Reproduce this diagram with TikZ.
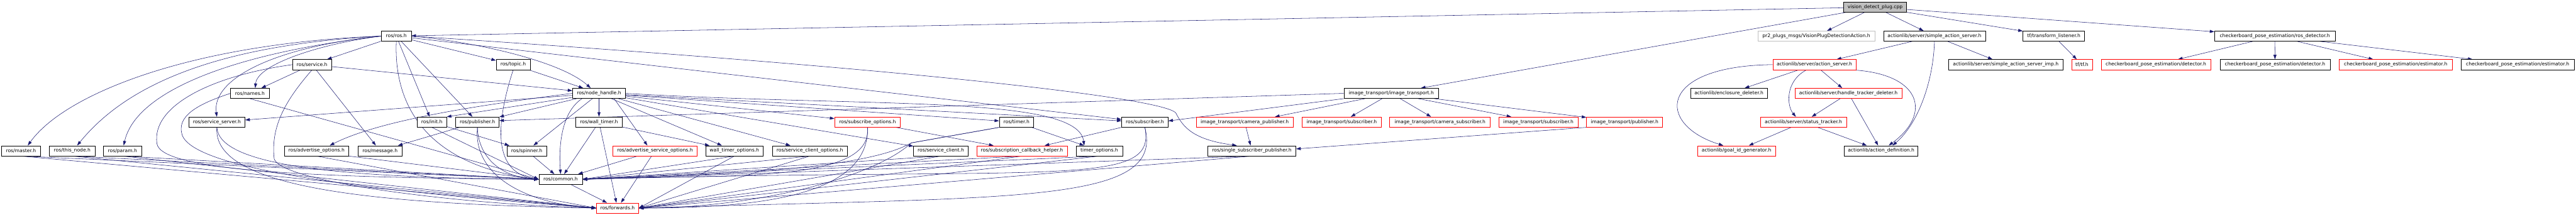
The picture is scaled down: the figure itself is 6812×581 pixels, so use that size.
\documentclass[tikz,border=0pt]{standalone}
\usepackage{fontspec}
\setmainfont{DejaVu Sans}
\usetikzlibrary{arrows.meta,backgrounds}
\definecolor{edgeblue}{HTML}{191970}
\definecolor{truncred}{HTML}{FF0000}
\definecolor{extgray}{HTML}{BFBFBF}

\begin{document}
\begin{tikzpicture}[
  x=1pt, y=-1pt,
  font=\fontsize{12.7}{15}\selectfont,
  hdr/.style={
    draw=black, fill=white, line width=1pt,
    minimum height=27pt, inner xsep=0pt, inner ysep=0pt
  },
  trunc/.style={hdr, draw=truncred},
  extern/.style={hdr, draw=extgray},
  root/.style={hdr, fill=extgray},
  dep/.style={-{Triangle[length=12pt, width=8pt]}, draw=edgeblue, line width=0.9pt},
]
\useasboundingbox (0,0) rectangle (6812,581);

% Root file.
\node[root, minimum width=167] (vdp) at (4958.5,19) {vision\_detect\_plug.cpp};

% Row 1.
\node[hdr, minimum width=79] (rosh) at (1048,95.5) {ros/ros.h};
\node[extern, minimum width=310] (pr2msg) at (4803,95.5) {pr2\_plugs\_msgs/VisionPlugDetectionAction.h};
\node[hdr, minimum width=269] (sas) at (5115.5,95.5) {actionlib/server/simple\_action\_server.h};
\node[hdr, minimum width=163] (tfl) at (5431,95.5) {tf/transform\_listener.h};
\node[hdr, minimum width=319] (rosdet) at (6015.5,95.5) {checkerboard\_pose\_estimation/ros\_detector.h};

% Row 2.
\node[hdr, minimum width=102.5] (service) at (825,171) {ros/service.h};
\node[hdr, minimum width=90] (topic) at (1357,171) {ros/topic.h};
\node[trunc, minimum width=220] (actsrv) at (4798,171) {actionlib/server/action\_server.h};
\node[hdr, minimum width=302] (sasimp) at (5304,171) {actionlib/server/simple\_action\_server\_imp.h};
\node[trunc, minimum width=55] (tf) at (5505.5,171) {tf/tf.h};
\node[trunc, minimum width=290] (detr) at (5701,171) {checkerboard\_pose\_estimation/detector.h};
\node[hdr, minimum width=291] (detb) at (6016,171) {checkerboard\_pose\_estimation/detector.h};
\node[trunc, minimum width=299] (estr) at (6335,171) {checkerboard\_pose\_estimation/estimator.h};
\node[hdr, minimum width=299] (estb) at (6657.5,171) {checkerboard\_pose\_estimation/estimator.h};

% Row 3.
\node[hdr, minimum width=102.5] (names) at (661,247) {ros/names.h};
\node[hdr, minimum width=140] (nh) at (1584,247) {ros/node\_handle.h};
\node[hdr, minimum width=250.5] (itrans) at (3679,247) {image\_transport/image\_transport.h};
\node[hdr, minimum width=204] (encl) at (4572,247) {actionlib/enclosure\_deleter.h};
\node[trunc, minimum width=282] (htd) at (4888,247) {actionlib/server/handle\_tracker\_deleter.h};

% Row 4.
\node[hdr, minimum width=149] (srvsrv) at (573.5,323) {ros/service\_server.h};
\node[hdr, minimum width=78] (init) at (1142,323) {ros/init.h};
\node[hdr, minimum width=115] (pub) at (1262.5,323) {ros/publisher.h};
\node[hdr, minimum width=122] (wtimer) at (1584,323) {ros/wall\_timer.h};
\node[trunc, minimum width=174] (subopt) at (2294,323) {ros/subscribe\_options.h};
\node[hdr, minimum width=91] (timer) at (2688,323) {ros/timer.h};
\node[hdr, minimum width=123] (sub) at (3027.5,323) {ros/subscriber.h};
\node[trunc, minimum width=257] (campub) at (3291.5,323) {image\_transport/camera\_publisher.h};
\node[trunc, minimum width=210] (itsuba) at (3548,323) {image\_transport/subscriber.h};
\node[trunc, minimum width=266] (camsub) at (3808,323) {image\_transport/camera\_subscriber.h};
\node[trunc, minimum width=209.5] (itsubb) at (4068,323) {image\_transport/subscriber.h};
\node[trunc, minimum width=201.5] (itpub) at (4296,323) {image\_transport/publisher.h};
\node[trunc, minimum width=228] (stattrk) at (4769,323) {actionlib/server/status\_tracker.h};

% Row 5.
\node[hdr, minimum width=103] (master) at (55.5,399) {ros/master.h};
\node[hdr, minimum width=120] (thisnode) at (191,399) {ros/this\_node.h};
\node[hdr, minimum width=100] (param) at (324,399) {ros/param.h};
\node[hdr, minimum width=170] (advopt) at (837,399) {ros/advertise\_options.h};
\node[hdr, minimum width=118] (msg) at (1005,399) {ros/message.h};
\node[hdr, minimum width=104.5] (spinner) at (1393,399) {ros/spinner.h};
\node[trunc, minimum width=223.5] (advsrvopt) at (1732,399) {ros/advertise\_service\_options.h};
\node[hdr, minimum width=152] (wtopt) at (1942,399) {wall\_timer\_options.h};
\node[hdr, minimum width=199] (scopt) at (2141.5,399) {ros/service\_client\_options.h};
\node[hdr, minimum width=144] (svcclient) at (2488,399) {ros/service\_client.h};
\node[trunc, minimum width=239] (sch) at (2702.5,399) {ros/subscription\_callback\_helper.h};
\node[hdr, minimum width=122.5] (topt) at (2907,399) {timer\_options.h};
\node[hdr, minimum width=233] (ssp) at (3310.5,399) {ros/single\_subscriber\_publisher.h};
\node[trunc, minimum width=205.5] (goalid) at (4592,399) {actionlib/goal\_id\_generator.h};
\node[hdr, minimum width=195] (actdef) at (4974.5,399) {actionlib/action\_definition.h};

% Rows 6 and 7.
\node[hdr, minimum width=115] (common) at (1482.5,474.5) {ros/common.h};
\node[trunc, minimum width=112] (fwd) at (1633,550.5) {ros/forwards.h};

\begin{scope}[on background layer]
% vision_detect_plug.cpp
\draw[dep] (vdp) -- (rosh);
\draw[dep] (vdp) -- (itrans);
\draw[dep] (vdp) -- (pr2msg);
\draw[dep] (vdp) -- (sas);
\draw[dep] (vdp) -- (tfl);
\draw[dep] (vdp) -- (rosdet);

% actionlib
\draw[dep] (sas) -- (actsrv);
\draw[dep] (sas.south) .. controls (5112,220) and (5070,330) .. ([xshift=30]actdef.north);
\draw[dep] (sas) -- (sasimp);
\draw[dep] (actsrv.west) .. controls (4380,175) and (4380,330) .. ([xshift=-35]goalid.north);
\draw[dep] (actsrv) -- (encl);
\draw[dep] ([xshift=-21]actsrv.south) .. controls (4720,215) and (4725,280) .. ([xshift=-20]stattrk.north);
\draw[dep] (actsrv) -- (htd);
\draw[dep] ([xshift=100]actsrv.south) .. controls (5080,195) and (5110,300) .. ([xshift=20]actdef.north);
\draw[dep] (htd) -- (stattrk);
\draw[dep] (htd) -- (actdef);
\draw[dep] (stattrk) -- (goalid);
\draw[dep] (stattrk) -- (actdef);

% tf and checkerboard
\draw[dep] (tfl) -- (tf);
\draw[dep] (rosdet) -- (detr);
\draw[dep] (rosdet) -- (detb);
\draw[dep] (rosdet) -- (estr);
\draw[dep] (rosdet) -- (estb);

% image_transport
\draw[dep] (itrans.west) -- ([yshift=4]pub.east);
\draw[dep] (itrans.south west) -- ([yshift=3]sub.east);
\draw[dep] (itrans) -- ([xshift=80]campub.north);
\draw[dep] (itrans) -- (itsuba);
\draw[dep] (itrans) -- (camsub);
\draw[dep] (itrans) -- (itsubb);
\draw[dep] (itrans) -- (itpub);
\draw[dep] (itpub.south west) -- ([yshift=5]ssp.east);
\draw[dep] (campub) -- (ssp);

% ros/ros.h
\draw[dep] (rosh.west) .. controls (500,115) and (170,250) .. ([xshift=18]master.north);
\draw[dep] (rosh.west) .. controls (560,120) and (330,230) .. ([xshift=13]thisnode.north);
\draw[dep] (rosh.west) .. controls (620,140) and (360,240) .. ([xshift=3]param.north);
\draw[dep] (rosh.west) .. controls (720,125) and (560,210) .. (srvsrv.north);
\draw[dep] (rosh.west) .. controls (850,115) and (680,170) .. ([xshift=14]names.north);
\draw[dep] (rosh) -- ([xshift=40]service.north);
\draw[dep] (rosh) -- (topic);
\draw[dep] (rosh.east) .. controls (1250,110) and (1480,160) .. ([xshift=-22]nh.north);
\draw[dep] (rosh) -- (pub);
\draw[dep] (rosh) -- (init);
\draw[dep] (rosh) -- (sub);
\draw[dep] (rosh.east) .. controls (2400,180) and (3090,260) .. (3110,300)
  .. controls (3130,340) and (3160,370) .. ([xshift=-40]ssp.north);
\draw[dep] (rosh.south) .. controls (1040,300) and (1150,440) .. (common.west);

% ros/service.h, ros/names.h, ros/topic.h
\draw[dep] (service) -- (names);
\draw[dep] (service) -- (msg);
\draw[dep] (service) -- (nh);
\draw[dep] (service.west) .. controls (560,200) and (400,280) .. (415,380)
  .. controls (425,450) and (800,470) .. (common.west);
\draw[dep] (service.south) .. controls (760,260) and (715,330) .. (725,420)
  .. controls (740,480) and (1200,540) .. (fwd.west);
\draw[dep] (names.south) -- (common.west);
\draw[dep] (names.west) .. controls (540,270) and (470,300) .. (480,350)
  .. controls (490,440) and (900,500) .. (fwd.west);
\draw[dep] (topic) -- (nh);
\draw[dep] (topic.south) .. controls (1320,300) and (1290,455) .. (common.west);

% ros/node_handle.h
\draw[dep] (nh) -- (srvsrv);
\draw[dep] (nh.west) .. controls (1250,280) and (1000,320) .. ([xshift=35]advopt.north);
\draw[dep] (nh) -- (init.north east);
\draw[dep] (nh) -- (pub);
\draw[dep] (nh) -- (spinner);
\draw[dep] ([xshift=-45]nh.south) .. controls (1480,300) and (1478,400) .. (common.north);
\draw[dep] (nh) -- (wtimer);
\draw[dep] ([xshift=40]nh.south) -- ([xshift=-20]advsrvopt.north);
\draw[dep] (nh) -- (wtopt);
\draw[dep] (nh) -- (scopt);
\draw[dep] (nh) -- (subopt);
\draw[dep] (nh) -- (timer);
\draw[dep] (nh) -- (svcclient);
\draw[dep] (nh) -- (sub);
\draw[dep] (nh.east) .. controls (2300,285) and (2850,250) .. ([xshift=-40]topt.north);

% Row 4 headers.
\draw[dep] (init) -- (spinner);
\draw[dep] (init.south) -- (common.west);
\draw[dep] (pub) -- (msg);
\draw[dep] (pub.south) .. controls (1265,420) and (1330,470) .. (common.west);
\draw[dep] (pub.south) .. controls (1250,470) and (1400,540) .. (fwd.west);
\draw[dep] (wtimer) -- (wtopt);
\draw[dep] (wtimer) -- (common);
\draw[dep] (wtimer) -- (fwd);
\draw[dep] (srvsrv.south) .. controls (580,440) and (900,470) .. (common.west);
\draw[dep] (srvsrv.south) .. controls (560,500) and (1000,540) .. (fwd.west);
\draw[dep] (subopt) -- (sch);
\draw[dep] (subopt.south) .. controls (2310,490) and (1900,460) .. (common.east);
\draw[dep] (subopt.south) .. controls (2300,520) and (2000,550) .. (fwd.east);
\draw[dep] (timer) -- (topt);
\draw[dep] (timer.south west) -- (2410,378) .. controls (2300,440) and (2000,460) .. (common.east);
\draw[dep] (timer.south west) -- (2410,378) .. controls (2310,470) and (2000,550) .. (fwd.east);
\draw[dep] (sub.south west) -- ([xshift=60]sch.north);
\draw[dep] (sub.south) .. controls (3060,500) and (2800,440) .. (common.east);
\draw[dep] (sub.south) .. controls (3080,540) and (2700,520) .. (fwd.east);

% Row 5 headers.
\draw[dep] (master.south) -- (common.west);
\draw[dep] (master.south) -- (fwd.west);
\draw[dep] (thisnode.south) -- (common.west);
\draw[dep] (thisnode.south) -- (fwd.west);
\draw[dep] (param.south) -- (common.west);
\draw[dep] (param.south) -- (fwd.west);
\draw[dep] (advopt.south east) -- (common.west);
\draw[dep] (advopt.south) -- (fwd.west);
\draw[dep] (spinner) -- (common);
\draw[dep] (advsrvopt) -- (common);
\draw[dep] (advsrvopt) -- (fwd);
\draw[dep] (wtopt.south) -- (common.east);
\draw[dep] (wtopt.south) -- (fwd.east);
\draw[dep] (scopt.south) -- (common.east);
\draw[dep] (scopt.south) -- (fwd.east);
\draw[dep] (svcclient.south) -- (common.east);
\draw[dep] (svcclient.south) -- (fwd.east);
\draw[dep] (sch.south) -- (common.east);
\draw[dep] (sch.south) -- (fwd.east);
\draw[dep] (topt.south) -- (common.east);
\draw[dep] (topt.south) -- (fwd.east);
\draw[dep] (ssp.south) -- (common.east);
\draw[dep] (ssp.south) -- (fwd.east);
\draw[dep] (common) -- (fwd);
\end{scope}

\end{tikzpicture}
\end{document}
